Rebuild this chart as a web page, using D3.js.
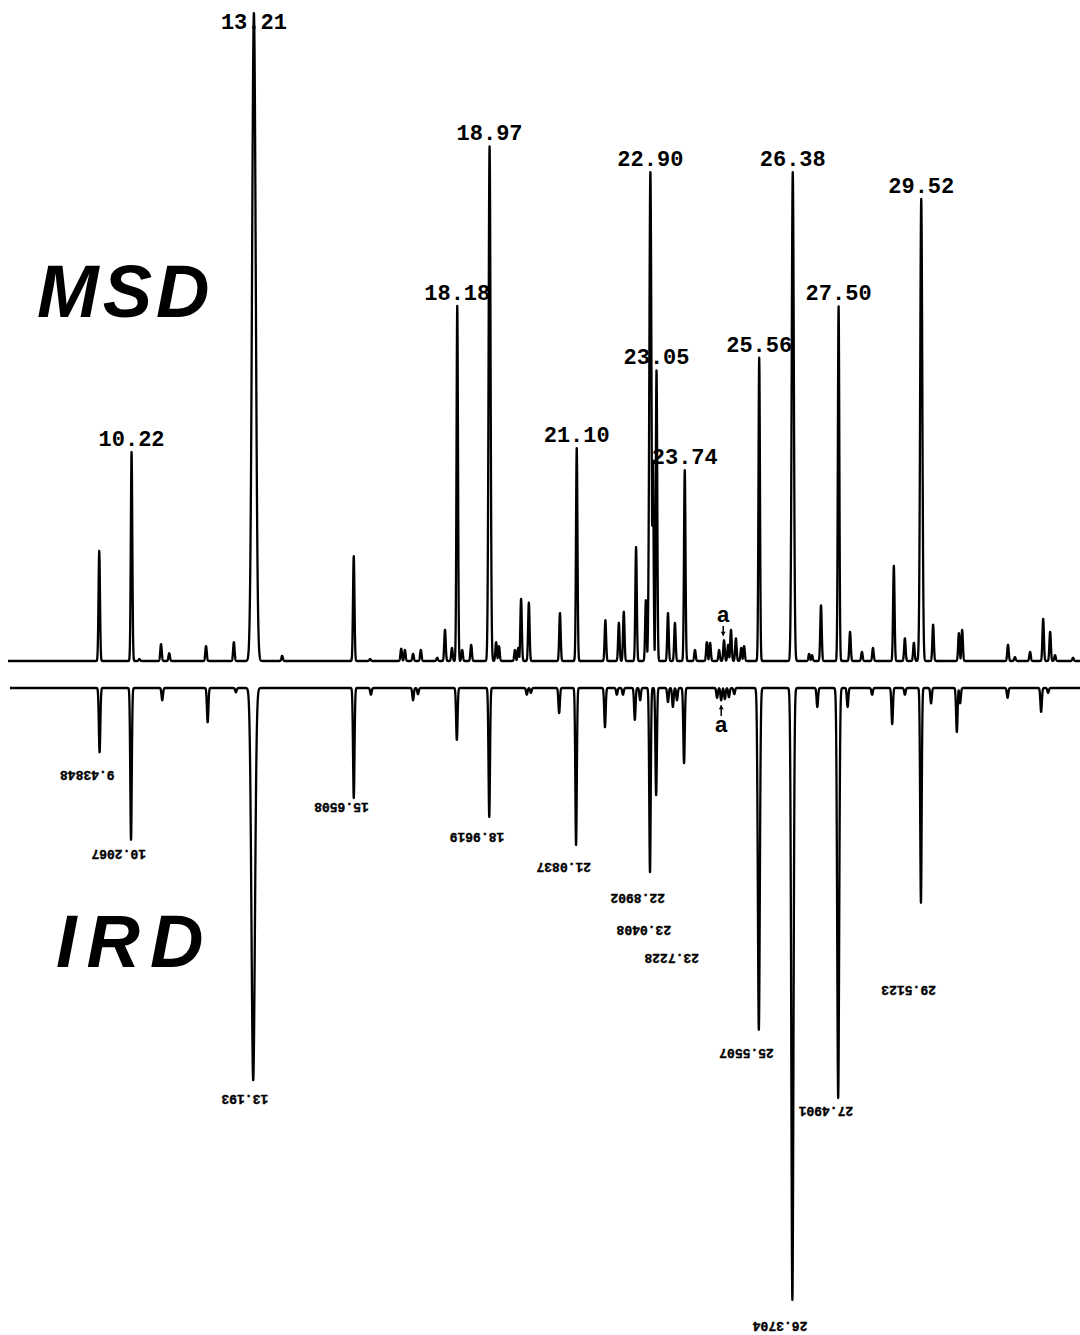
<!DOCTYPE html>
<html><head><meta charset="utf-8">
<script src="https://cdn.jsdelivr.net/npm/d3@7"></script>
<style>html,body{margin:0;padding:0;background:#fff;}svg{display:block;}</style>
</head><body>
<svg id="c" width="1080" height="1335"></svg>
<script>
// ---------- data: retention time (min) ----------
const timeDomain = [7.2, 33.4];

// MSD peaks (relative abundance, 13.21 = 100) and widths (sigma, min)
const msdTimes   = [9.43,10.22,10.41,10.94,11.14,12.04,12.72,13.21,13.90,15.65,16.05,16.81,16.90,17.10,17.29,17.69,17.88,18.05,18.18,18.30,18.52,18.97,19.13,19.20,19.59,19.67,19.74,19.93,20.69,21.10,21.80,22.13,22.25,22.55,22.79,22.90,22.96,23.05,23.33,23.50,23.74,23.99,24.28,24.36,24.58,24.70,24.80,24.87,24.99,25.12,25.19,25.56,26.38,26.78,26.85,27.07,27.50,27.78,28.07,28.34,28.85,29.12,29.34,29.52,29.81,30.44,30.52,31.64,31.81,32.18,32.50,32.67,32.79,33.23];
const msdHeights = [17.0,32.3,0.3,2.6,1.2,2.3,2.9,100,0.8,16.2,0.3,1.9,1.7,1.1,1.7,0.5,4.8,2.0,54.8,1.7,2.5,79.5,2.9,2.3,1.7,2.0,9.6,9.0,7.4,32.9,6.3,5.9,7.6,17.6,9.4,75.5,31.0,44.9,7.4,5.9,29.5,1.7,2.9,2.8,1.7,3.2,2.5,4.8,3.5,2.0,2.3,46.8,75.5,1.1,0.9,8.6,54.8,4.5,1.4,2.0,14.7,3.5,2.8,71.3,5.6,4.3,4.8,2.5,0.6,1.4,6.5,4.5,0.9,0.5];
const msdBroad   = {13.21:0.045, 22.90:0.026, 26.38:0.026, 29.52:0.026, 18.97:0.024};
const msdLabelTimes = [10.22,13.21,18.18,18.97,21.10,22.90,23.05,23.74,25.56,26.38,27.50,29.52];

// IRD peaks (relative response, 26.3704 = 100), drawn downward
const irdTimes   = [9.43848,10.2067,10.97,12.08,12.77,13.193,15.6508,16.07,17.10,17.22,18.17,18.9619,19.88,19.98,20.67,21.0837,21.79,22.08,22.23,22.52,22.65,22.8902,23.0408,23.33,23.45,23.55,23.7228,24.53,24.63,24.72,24.82,24.95,25.5507,26.3704,26.98,27.4901,27.72,28.32,28.81,29.12,29.5123,29.76,30.39,30.47,31.63,32.45,32.62];
const irdDepths  = [10.5,24.8,2.0,5.6,0.7,64.1,18.0,1.1,2.0,1.0,8.5,21.1,1.1,0.8,4.1,25.7,6.4,1.1,1.1,5.2,2.0,30.1,17.5,2.3,3.1,2.0,12.3,1.6,2.0,1.8,1.5,1.0,55.9,100,3.1,67.0,3.1,1.1,5.9,1.1,35.1,2.5,7.2,2.5,1.6,3.9,0.8];
const irdBroad   = {13.193:0.042, 26.3704:0.026, 27.4901:0.024, 25.5507:0.024};
const irdLabels  = ["9.43848","10.2067","13.193","15.6508","18.9619","21.0837","22.8902","23.0408","23.7228","25.5507","26.3704","27.4901","29.5123"];
const irdLabelLevels = [14.2,27.0,67.0,19.3,24.3,29.1,34.2,39.4,44.1,59.5,104.2,69.1,49.3];

// annotation "a"
const annotTime = 24.68;
const annotMsdLevels = [6.0, 3.9];   // text baseline, arrow tip
const annotIrdLevels = [7.2, 2.8];

// ---------- scales ----------
const svg = d3.select("#c");
const x = d3.scaleLinear().domain(timeDomain).range([8, 1080]);
const yMsd = d3.scaleLinear().domain([0, 100]).range([661, 13]);
const yIrd = d3.scaleLinear().domain([0, 100]).range([688, 1300]);
const defaultSigma = 0.018;

function trace(times, vals, broad, t0, t1) {
  const pts = [];
  const step = 0.003;
  for (let t = t0; t <= t1 + 1e-9; t += step) {
    let v = 0;
    for (let i = 0; i < times.length; i++) {
      const s = broad[times[i]] || defaultSigma;
      const d = (t - times[i]) / s;
      if (Math.abs(d) < 6) {
        const g = vals[i] * Math.exp(-0.5 * d * d);
        if (g > v) v = g;
      }
    }
    pts.push([t, v]);
  }
  return pts;
}

const msdLine = d3.line().x(d => x(d[0])).y(d => yMsd(d[1]));
const irdLine = d3.line().x(d => x(d[0])).y(d => yIrd(d[1]));

svg.append("path")
  .attr("d", msdLine(trace(msdTimes, msdHeights, msdBroad, timeDomain[0], timeDomain[1])))
  .attr("fill", "none").attr("stroke", "#000").attr("stroke-width", 2.3)
  .attr("stroke-linejoin", "round");

svg.append("path")
  .attr("d", irdLine(trace(irdTimes, irdDepths, irdBroad, x.invert(10), timeDomain[1])))
  .attr("fill", "none").attr("stroke", "#000").attr("stroke-width", 2.3)
  .attr("stroke-linejoin", "round");

// MSD labels
const msdLabelG = svg.append("g")
  .attr("font-family", "'Liberation Mono', 'DejaVu Sans Mono', monospace")
  .attr("font-weight", "bold").attr("font-size", 22).attr("text-anchor", "middle");
msdLabelTimes.forEach(t => {
  const i = msdTimes.indexOf(t);
  const yTop = yMsd(msdHeights[i]);
  msdLabelG.append("text")
    .attr("x", x(t)).attr("y", Math.max(yTop - 6, 29))
    .text(t.toFixed(2));
});

// IRD labels (printed upside-down)
const irdLabelG = svg.append("g")
  .attr("font-family", "'Liberation Mono', 'DejaVu Sans Mono', monospace")
  .attr("font-weight", "bold").attr("font-size", 13)
  .attr("stroke", "#000").attr("stroke-width", 0.4);
irdLabels.forEach((s, k) => {
  const t = +s;
  irdLabelG.append("text")
    .attr("transform", `translate(${x(t) + 15},${yIrd(irdLabelLevels[k])}) rotate(180)`)
    .attr("dominant-baseline", "central")
    .attr("text-anchor", "start")
    .text(s);
});

// Detector titles
svg.append("text").attr("x", 37).attr("y", 317)
  .attr("font-family", "'Liberation Sans', Arial, sans-serif")
  .attr("font-weight", "bold").attr("font-style", "italic")
  .attr("font-size", 74).attr("letter-spacing", 4).text("MSD");
svg.append("text").attr("x", 56).attr("y", 967)
  .attr("font-family", "'Liberation Sans', Arial, sans-serif")
  .attr("font-weight", "bold").attr("font-style", "italic")
  .attr("font-size", 74).attr("letter-spacing", 10).text("IRD");

// annotation a
const ax = x(annotTime);
const ag = svg.append("g").attr("font-family", "'Liberation Sans', Arial, sans-serif")
  .attr("font-weight", "bold").attr("font-size", 22).attr("text-anchor", "middle");
ag.append("text").attr("x", ax).attr("y", yMsd(annotMsdLevels[0])).text("a");
ag.append("line").attr("x1", ax).attr("x2", ax)
  .attr("y1", yMsd(annotMsdLevels[0]) + 4).attr("y2", yMsd(annotMsdLevels[1]))
  .attr("stroke", "#000").attr("stroke-width", 1.5);
ag.append("path").attr("d", `M${ax-2.5},${yMsd(annotMsdLevels[1])-4}L${ax+2.5},${yMsd(annotMsdLevels[1])-4}L${ax},${yMsd(annotMsdLevels[1])}Z`).attr("fill", "#000");
ag.append("text").attr("x", ax - 2).attr("y", yIrd(annotIrdLevels[0])).text("a");
ag.append("line").attr("x1", ax - 2).attr("x2", ax - 2)
  .attr("y1", yIrd(annotIrdLevels[0]) - 16).attr("y2", yIrd(annotIrdLevels[1]))
  .attr("stroke", "#000").attr("stroke-width", 1.5);
ag.append("path").attr("d", `M${ax-4.5},${yIrd(annotIrdLevels[1])+4}L${ax+0.5},${yIrd(annotIrdLevels[1])+4}L${ax-2},${yIrd(annotIrdLevels[1])}Z`).attr("fill", "#000");
</script>
</body></html>
